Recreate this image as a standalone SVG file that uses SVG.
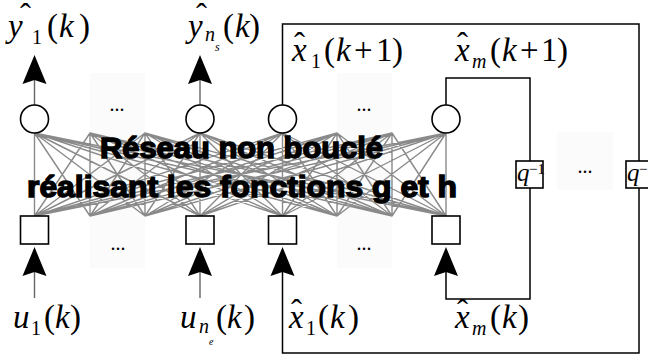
<svg xmlns="http://www.w3.org/2000/svg" width="648" height="356" viewBox="0 0 648 356">
<defs>
<style>
.m{font-family:"Liberation Serif","Times New Roman",serif;font-size:33px;fill:#000}
.i{font-style:italic}
.sub{font-size:20px}
.ss{font-size:12px;font-style:italic}
.e{font-size:10px;font-style:italic}
.q{font-family:"Liberation Serif","Times New Roman",serif;font-size:25px;font-style:italic;fill:#000}
.qs{font-family:"Liberation Serif","Times New Roman",serif;font-size:15px;fill:#000}
.b{font-family:"Liberation Sans",Arial,sans-serif;font-weight:bold;font-size:29px;fill:#000;stroke:#000;stroke-width:1.4}
.dots{font-family:"Liberation Serif","Times New Roman",serif;font-size:20px;fill:#000}
.node{fill:#fff;stroke:#000;stroke-width:1.6}
.mesh{fill:none;stroke:#8a8a8a;stroke-width:1.4;stroke-linejoin:round}
.stem{fill:none;stroke:#666;stroke-width:1.4}
.loop{fill:none;stroke:#000;stroke-width:1.5}
.head{fill:#000}
.faint{fill:#fbfbfb}
</style>
<path id="up" class="head" d="M0 0 L-12 29 L0 25 L12 29 Z"/>
</defs>
<rect width="648" height="356" fill="#fff"/>
<g id="background">
<rect class="faint" x="90" y="73" width="55" height="195"/>
<rect class="faint" x="337" y="73" width="55" height="195"/>
<rect class="faint" x="557" y="132" width="56" height="58"/>
</g>
<g id="mesh">
<path class="mesh" d="M34.5 216L34.5 133L90 216M145 216L34.5 133L200 216M282.5 216L34.5 133L337 216M392 216L34.5 133L446 216
M34.5 216L90 133L90 216M145 216L90 133L200 216M282.5 216L90 133L337 216M392 216L90 133L446 216
M34.5 216L145 133L90 216M145 216L145 133L200 216M282.5 216L145 133L337 216M392 216L145 133L446 216
M34.5 216L200 133L90 216M145 216L200 133L200 216M282.5 216L200 133L337 216M392 216L200 133L446 216
M34.5 216L282.5 133L90 216M145 216L282.5 133L200 216M282.5 216L282.5 133L337 216M392 216L282.5 133L446 216
M34.5 216L337 133L90 216M145 216L337 133L200 216M282.5 216L337 133L337 216M392 216L337 133L446 216
M34.5 216L392 133L90 216M145 216L392 133L200 216M282.5 216L392 133L337 216M392 216L392 133L446 216
M34.5 216L446 133L90 216M145 216L446 133L200 216M282.5 216L446 133L337 216M392 216L446 133L446 216"/>
</g>
<g id="title">
<text class="b" x="100" y="158" textLength="283" lengthAdjust="spacingAndGlyphs">Réseau non bouclé</text>
<text class="b" x="27" y="197" textLength="430" lengthAdjust="spacingAndGlyphs">réalisant les fonctions g et h</text>
</g>
<g id="connectors">
<path class="stem" d="M34.5 105V80M200 105V80"/>
<use href="#up" x="34.5" y="55"/>
<use href="#up" x="200" y="55"/>
<path class="stem" d="M34.5 298V272M200 298V272"/>
<use href="#up" x="34.5" y="247"/>
<use href="#up" x="200" y="247"/>
<path class="loop" d="M282.5 105V24H639V353H282.5V272"/>
<use href="#up" x="282.5" y="247"/>
<path class="loop" d="M446 105V78H530V299H446V272"/>
<use href="#up" x="446" y="247"/>
</g>
<g id="out-1"><circle class="node" cx="34.5" cy="119" r="14"/></g>
<g id="out-ns"><circle class="node" cx="200" cy="119" r="14"/></g>
<g id="out-x1"><circle class="node" cx="282.5" cy="119" r="14"/></g>
<g id="out-xm"><circle class="node" cx="446" cy="119" r="14"/></g>
<g id="in-1"><rect class="node" x="20.5" y="216" width="28" height="28"/></g>
<g id="in-ne"><rect class="node" x="186" y="216" width="28" height="28"/></g>
<g id="in-x1"><rect class="node" x="268.5" y="216" width="28" height="28"/></g>
<g id="in-xm"><rect class="node" x="432" y="216" width="28" height="28"/></g>
<g id="delay-m"><rect class="node" x="516" y="161" width="27" height="27"/><text class="q" x="517" y="181">q</text><text class="qs" x="529" y="174">−1</text></g>
<g id="delay-1"><rect class="node" x="626" y="161" width="27" height="27"/><text class="q" x="627" y="181">q</text><text class="qs" x="639" y="174">−1</text></g>
<g id="dots">
<text class="dots" x="117" y="111" text-anchor="middle">...</text>
<text class="dots" x="118" y="250" text-anchor="middle">...</text>
<text class="dots" x="364" y="111" text-anchor="middle">...</text>
<text class="dots" x="364" y="250" text-anchor="middle">...</text>
<text class="dots" x="585" y="173" text-anchor="middle">...</text>
</g>
<g id="labels">
<text class="m" y="37"><tspan x="8" class="i">y</tspan><tspan x="32" y="44" class="sub">1</tspan><tspan x="47" y="37">(</tspan><tspan x="59" class="i">k</tspan><tspan x="79">)</tspan></text>
<text class="m" x="20" y="27">ˆ</text>
<text class="m" y="37"><tspan x="188" class="i">y</tspan><tspan x="205" y="41" class="sub i">n</tspan><tspan x="215" y="51" class="ss">s</tspan><tspan x="223" y="37">(</tspan><tspan x="235" class="i">k</tspan><tspan x="249">)</tspan></text>
<text class="m" x="196" y="27">ˆ</text>
<text class="m" y="61"><tspan x="292" class="i">x</tspan><tspan x="311" y="68" class="sub">1</tspan><tspan x="324" y="61">(</tspan><tspan x="336" class="i">k</tspan><tspan x="354">+</tspan><tspan x="376">1</tspan><tspan x="392">)</tspan></text>
<text class="m" x="294" y="56">ˆ</text>
<text class="m" y="61"><tspan x="455" class="i">x</tspan><tspan x="472" y="68" class="sub i">m</tspan><tspan x="490" y="61">(</tspan><tspan x="502" class="i">k</tspan><tspan x="520">+</tspan><tspan x="541">1</tspan><tspan x="557">)</tspan></text>
<text class="m" x="457" y="56">ˆ</text>
<text class="m" y="328"><tspan x="13" class="i">u</tspan><tspan x="31" y="335" class="sub">1</tspan><tspan x="44" y="328">(</tspan><tspan x="55" class="i">k</tspan><tspan x="70">)</tspan></text>
<text class="m" y="328"><tspan x="180" class="i">u</tspan><tspan x="199" y="333" class="sub i">n</tspan><tspan x="209" y="345" class="e">e</tspan><tspan x="216" y="328">(</tspan><tspan x="227" class="i">k</tspan><tspan x="244">)</tspan></text>
<text class="m" y="328"><tspan x="289" class="i">x</tspan><tspan x="306" y="335" class="sub">1</tspan><tspan x="318" y="328">(</tspan><tspan x="330" class="i">k</tspan><tspan x="348">)</tspan></text>
<text class="m" x="291" y="323">ˆ</text>
<text class="m" y="328"><tspan x="455" class="i">x</tspan><tspan x="472" y="335" class="sub i">m</tspan><tspan x="490" y="328">(</tspan><tspan x="502" class="i">k</tspan><tspan x="518">)</tspan></text>
<text class="m" x="457" y="323">ˆ</text>
</g>
</svg>
